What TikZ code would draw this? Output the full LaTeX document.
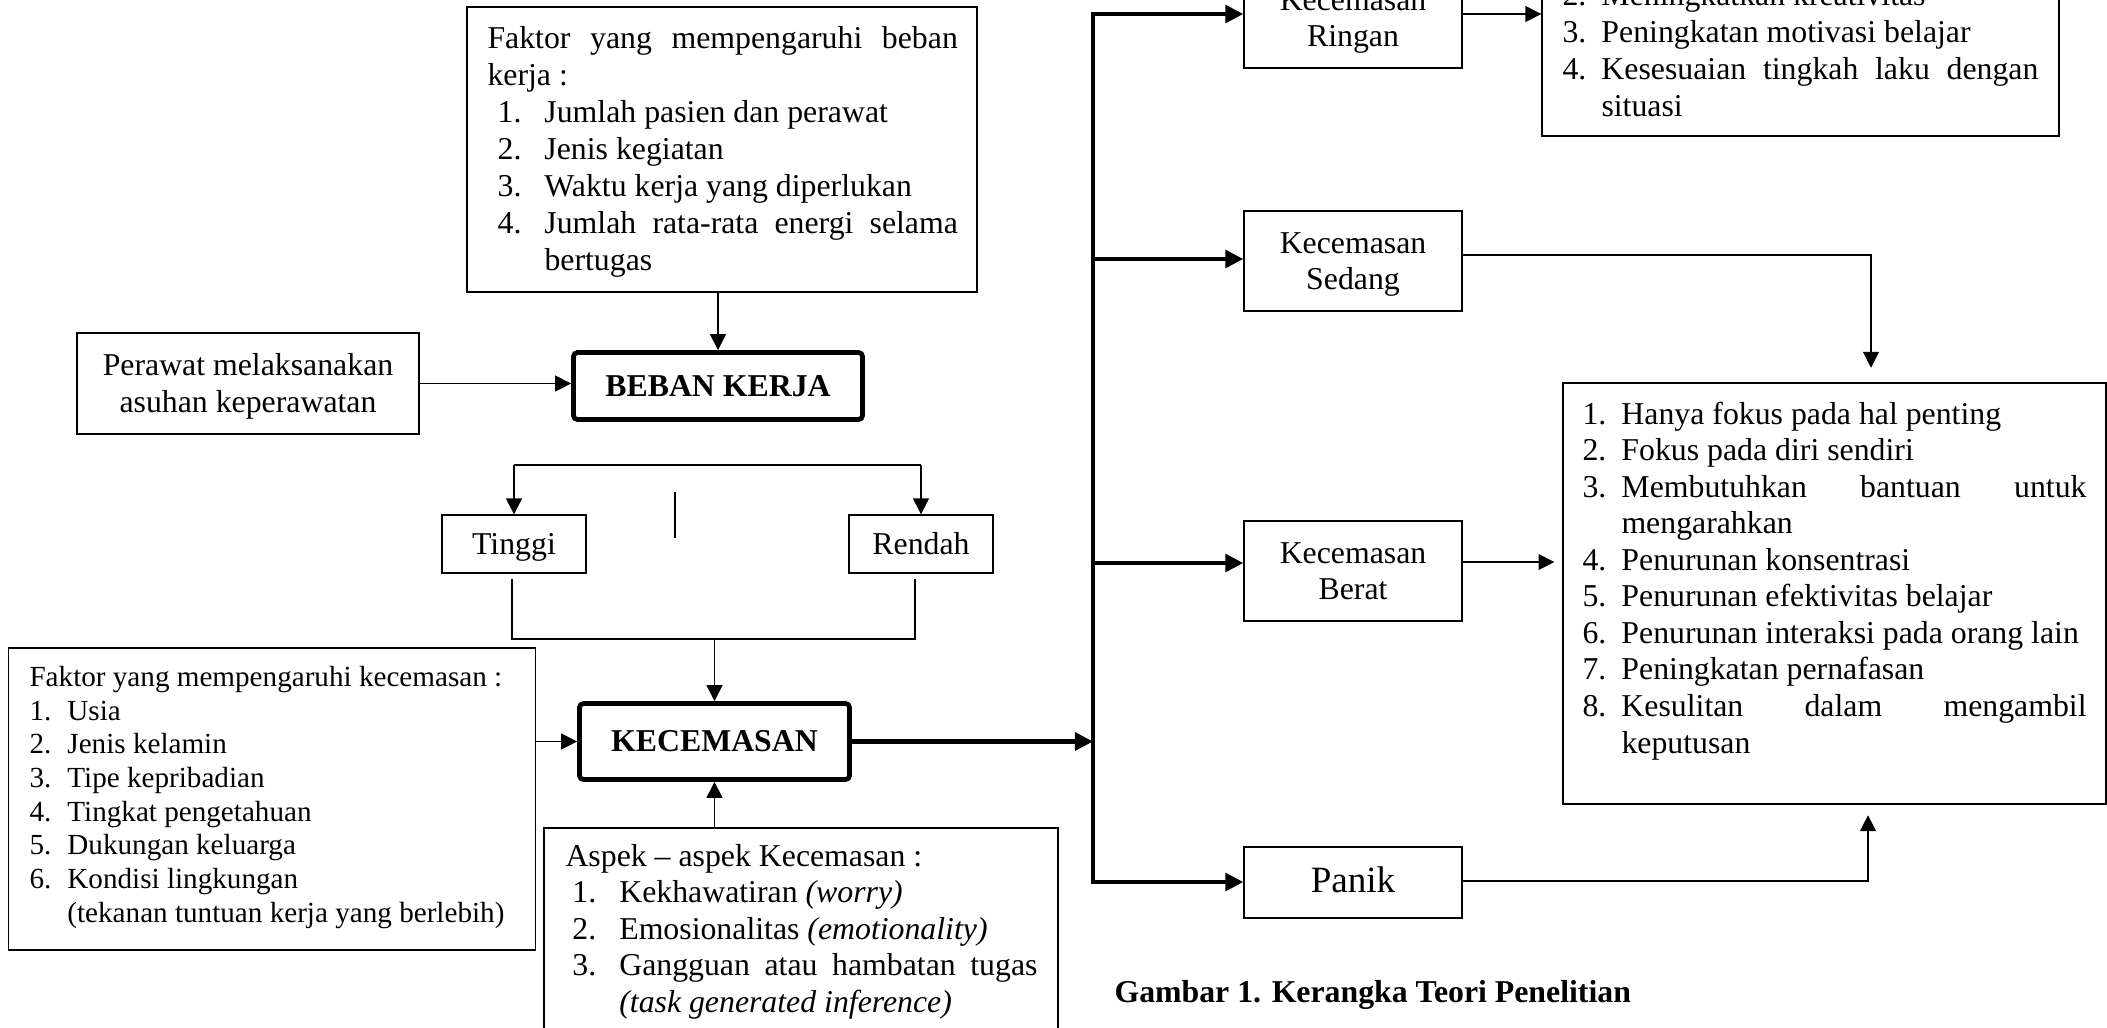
\documentclass[tikz,border=0pt]{standalone}
\usepackage{fontspec}
\setmainfont{Liberation Serif}
\usetikzlibrary{arrows.meta,positioning}

\newcommand{\pxu}{0.3774pt}
\newcommand{\twelve}{\fontsize{12}{13.8}\selectfont}
\newcommand{\twelvewide}{\fontsize{12}{14}\selectfont}
\newcommand{\eleven}{\fontsize{11}{12.7}\selectfont}
\newcommand{\fourteen}{\fontsize{14}{16.1}\selectfont}
\newcommand{\wstrut}{\rule[-3pt]{0pt}{13.8pt}}
% numbered line with hanging indent: indent, number box, number, text
\newcommand{\numitem}[4]{\par\hangindent=\dimexpr#1+#2\relax\hangafter=1\noindent\hspace*{#1}\makebox[#2][l]{#3}#4\par}
\setlength{\parskip}{0pt}
\hyphenpenalty=10000
\exhyphenpenalty=10000
\emergencystretch=200pt
\hbadness=10000

\begin{document}
\begin{tikzpicture}[
        x=\pxu, y=-\pxu,
        box/.style={draw, line width=0.5pt, inner sep=0pt, align=center, font=\twelve},
        mainbox/.style={draw, line width=1.8pt, rounded corners=1.5pt, inner sep=0pt, align=center, font=\twelve\bfseries},
        listtext/.style={anchor=base west, inner sep=0pt},
        ar/.style={-{Triangle[length=6pt,width=6pt]}, line width=0.45pt},
        thickar/.style={-{Triangle[length=6.8pt,width=6.6pt]}, line width=1.8pt},
        ln/.style={line width=0.45pt},
    ]

    \useasboundingbox (0,0) rectangle (2107,1027);
    \fill[white] (0,0) rectangle (2107,1027);
    \clip (0,0) rectangle (2107,1027);

    % left column
    \node[box, minimum width=510*\pxu, minimum height=285*\pxu] (bkfaktor) at (722,149.5) {};
    \node[listtext, font=\twelvewide] (bkfaktortxt) at (487,48) {\parbox[t]{177.5pt}{\noindent Faktor yang mempengaruhi beban kerja :
        \numitem{3.8pt}{17.7pt}{1.}{Jumlah pasien dan perawat}
        \numitem{3.8pt}{17.7pt}{2.}{Jenis kegiatan}
        \numitem{3.8pt}{17.7pt}{3.}{Waktu kerja yang diperlukan}
        \numitem{3.8pt}{17.7pt}{4.}{Jumlah rata-rata energi selama bertugas}}};

    \node[box, minimum width=342*\pxu, minimum height=101*\pxu] (perawat) at (248,383.5) {Perawat melaksanakan\wstrut\\asuhan keperawatan\wstrut};
    \node[mainbox, minimum width=289*\pxu, minimum height=67*\pxu] (beban) at (718,386) {BEBAN KERJA\wstrut};

    \node[box, minimum width=144*\pxu, minimum height=58*\pxu] (tinggi) at (514,544) {Tinggi\wstrut};
    \node[box, minimum width=144*\pxu, minimum height=58*\pxu] (rendah) at (921,544) {Rendah\wstrut};

    \node[mainbox, minimum width=270*\pxu, minimum height=76*\pxu] (kecemasan) at (714.5,741.5) {KECEMASAN\wstrut};

    \node[box, minimum width=527*\pxu, minimum height=302*\pxu] (fkec) at (272,799) {};
    \node[listtext, font=\eleven] (fkectxt) at (29,686.5) {\parbox[t]{188pt}{\noindent Faktor yang mempengaruhi kecemasan :
        \numitem{0pt}{14.3pt}{1.}{Usia}
        \numitem{0pt}{14.3pt}{2.}{Jenis kelamin}
        \numitem{0pt}{14.3pt}{3.}{Tipe kepribadian}
        \numitem{0pt}{14.3pt}{4.}{Tingkat pengetahuan}
        \numitem{0pt}{14.3pt}{5.}{Dukungan keluarga}
        \numitem{0pt}{14.3pt}{6.}{Kondisi lingkungan\\(tekanan tuntuan kerja yang berlebih)}}};

    \node[box, minimum width=514*\pxu, minimum height=232*\pxu] (aspek) at (801,944) {};
    \node[listtext, font=\twelve] (aspektxt) at (565,866) {\parbox[t]{178.1pt}{\noindent Aspek -- aspek Kecemasan :
        \numitem{2.6pt}{17.7pt}{1.}{Kekhawatiran \textit{(worry)}}
        \numitem{2.6pt}{17.7pt}{2.}{Emosionalitas \textit{(emotionality)}}
        \numitem{2.6pt}{17.7pt}{3.}{Gangguan atau hambatan tugas \textit{(task generated inference)}}}};

    % levels of anxiety
    \node[box, minimum width=218*\pxu, minimum height=100*\pxu] (ringan) at (1353,18) {Kecemasan\wstrut\\Ringan\wstrut};
    \node[box, minimum width=218*\pxu, minimum height=100*\pxu] (sedang) at (1353,261) {Kecemasan\wstrut\\Sedang\wstrut};
    \node[box, minimum width=218*\pxu, minimum height=100*\pxu] (berat) at (1353,571) {Kecemasan\wstrut\\Berat\wstrut};
    \node[box, minimum width=218*\pxu, minimum height=71*\pxu, font=\fourteen] (panik) at (1353,882.5) {Panik\wstrut};

    % outcomes
    \node[box, minimum width=517*\pxu, minimum height=216*\pxu] (ringout) at (1800.5,28) {};
    \node[listtext, font=\twelvewide] (ringouttxt) at (1562,5) {\parbox[t]{179.6pt}{%
        \numitem{0pt}{14.7pt}{2.}{Meningkatkan kreativitas}
        \numitem{0pt}{14.7pt}{3.}{Peningkatan motivasi belajar}
        \numitem{0pt}{14.7pt}{4.}{Kesesuaian tingkah laku dengan situasi}}};

    \node[box, minimum width=543*\pxu, minimum height=421*\pxu] (beratout) at (1834.5,593.5) {};
    \node[listtext, font=\twelve] (beratouttxt) at (1582,424) {\parbox[t]{190.2pt}{%
        \numitem{0pt}{14.7pt}{1.}{Hanya fokus pada hal penting}
        \numitem{0pt}{14.7pt}{2.}{Fokus pada diri sendiri}
        \numitem{0pt}{14.7pt}{3.}{Membutuhkan bantuan untuk mengarahkan}
        \numitem{0pt}{14.7pt}{4.}{Penurunan konsentrasi}
        \numitem{0pt}{14.7pt}{5.}{Penurunan efektivitas belajar}
        \numitem{0pt}{14.7pt}{6.}{Penurunan interaksi pada orang lain}
        \numitem{0pt}{14.7pt}{7.}{Peningkatan pernafasan}
        \numitem{0pt}{14.7pt}{8.}{Kesulitan dalam mengambil keputusan}}};

    \node[anchor=base west, inner sep=0pt, font=\twelve\bfseries] (caption) at (1114,1002) {Gambar 1. Kerangka Teori Penelitian};

    % thin connectors
    \draw[ar] (beban.north |- bkfaktor.south) -- (beban.north);
    \draw[ar] (perawat.east) -- (perawat.east -| beban.west);

    \coordinate (brtop) at (0,465);
    \draw[ln] (tinggi.north |- brtop) -- (rendah.north |- brtop);
    \draw[ar] (tinggi.north |- brtop) -- (tinggi.north);
    \draw[ar] (rendah.north |- brtop) -- (rendah.north);
    \coordinate (gaptop) at (675,492);
    \coordinate (gapbot) at (675,538);
    \draw[ln] (gaptop) -- (gapbot);

    \coordinate (jnL) at (512,579);
    \coordinate (jnR) at (915,579);
    \coordinate (jnbase) at (0,639);
    \draw[ln] (jnL) -- (jnL |- jnbase) -- (jnR |- jnbase) -- (jnR);
    \draw[ar] (kecemasan.north |- jnbase) -- (kecemasan.north);
    \draw[ar] (kecemasan.west -| fkec.east) -- (kecemasan.west);
    \draw[ar] (kecemasan.south |- aspek.north) -- (kecemasan.south);

    % thick spine
    \coordinate (sptop) at (1093,14);
    \coordinate (spbot) at (1093,882);
    \coordinate (spsedang) at (1093,259);
    \coordinate (spberat) at (1093,563);
    \draw[thickar] (spbot) -- (sptop) -- (sptop -| ringan.west);
    \draw[thickar] (sptop) -- (spbot) -- (spbot -| panik.west);
    \draw[thickar] (spsedang) -- (spsedang -| sedang.west);
    \draw[thickar] (spberat) -- (spberat -| berat.west);
    \draw[thickar] (kecemasan.east) -- (kecemasan.east -| sptop);

    % outcome connectors
    \draw[ar] (sptop -| ringan.east) -- (sptop -| ringout.west);
    \coordinate (sdturn) at (1871,255);
    \draw[ar, shorten >=5.5pt] (sdturn -| sedang.east) -- (sdturn) -- (sdturn |- beratout.north);
    \coordinate (brY) at (0,562);
    \draw[ar, shorten >=3pt] (berat.east |- brY) -- (beratout.west |- brY);
    \coordinate (pnturn) at (1868,881);
    \draw[ar, shorten >=4pt] (pnturn -| panik.east) -- (pnturn) -- (pnturn |- beratout.south);

\end{tikzpicture}
\end{document}
